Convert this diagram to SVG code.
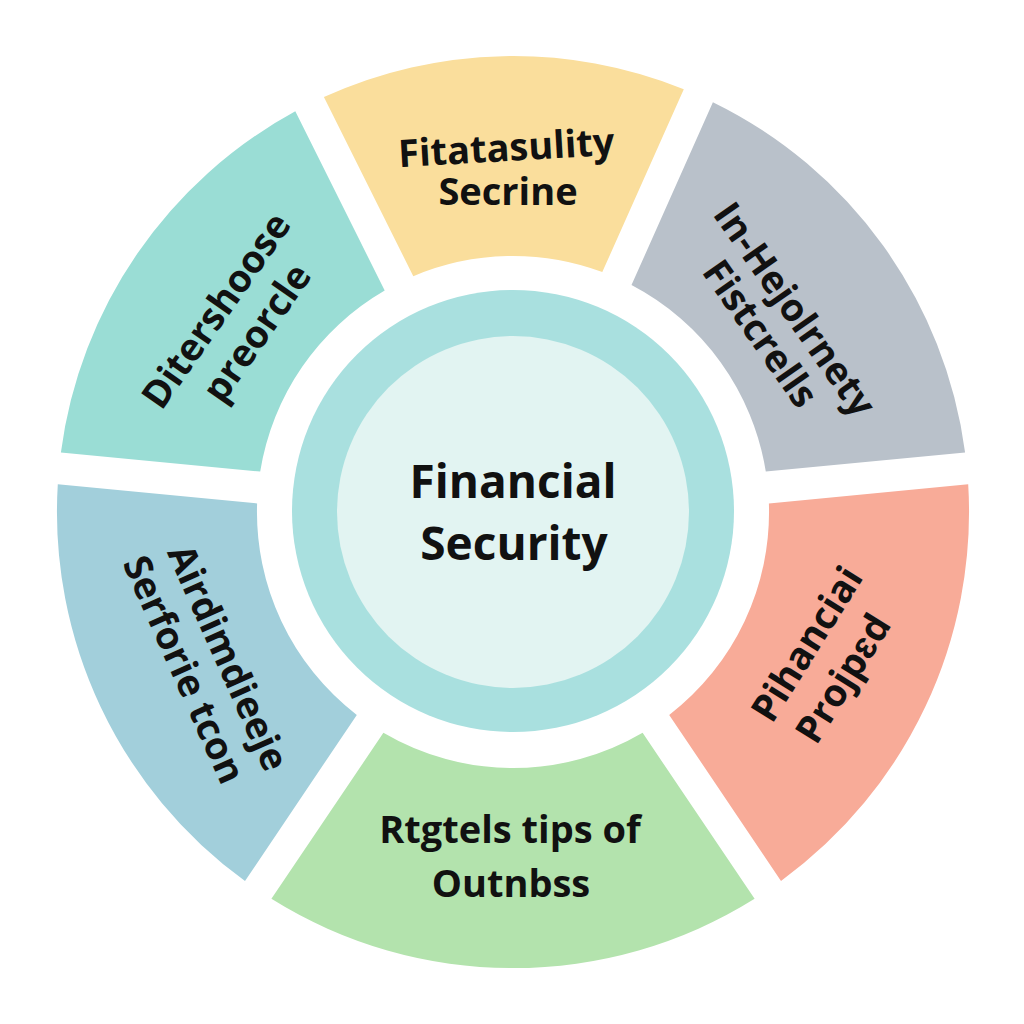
<svg xmlns="http://www.w3.org/2000/svg" width="1024" height="1024" viewBox="0 0 1024 1024">
  <style>
    .lbl { font-family: "Open Sans", "Liberation Sans", sans-serif; font-weight: 700; font-size: 38px; fill: #111111; text-anchor: middle; }
    .ctr { font-family: "Open Sans", "Liberation Sans", sans-serif; font-weight: 700; font-size: 46px; fill: #111111; text-anchor: middle; }
  </style>
  <rect x="0" y="0" width="1024" height="1024" fill="#ffffff"/>
  <g id="connectors"></g>

  <g id="seg-top">
    <path d="M323.9,97.1 A456,456 0 0 1 683.8,89.2 L602.3,272.1 A256,256 0 0 0 413.3,276.2 Z" fill="#FADE9C"/>
    <text class="lbl" transform="translate(507,161) rotate(-3.3)">Fitatasulity</text>
    <text class="lbl" x="508" y="205">Secrine</text>
  </g>

  <g id="seg-top-right">
    <path d="M712.9,102.2 A456,456 0 0 1 965.1,452.5 L765.8,471.6 A256,256 0 0 0 631.5,285.1 Z" fill="#B9C1CA"/>
    <g transform="translate(784,317) rotate(55)">
      <text class="lbl" x="0" y="0">In-Hejolrnety</text>
      <text class="lbl" x="0" y="42">Fistcrells</text>
    </g>
  </g>

  <g id="seg-bottom-right">
    <path d="M968.2,484.3 A456,456 0 0 1 781.0,880.9 L669.2,714.9 A256,256 0 0 0 768.9,503.4 Z" fill="#F8AB98"/>
    <g transform="translate(818,651) rotate(-58)">
      <text class="lbl" x="0" y="0">Pihanciai</text>
      <text class="lbl" x="-10" y="49">Projpɛd</text>
    </g>
  </g>

  <g id="seg-bottom">
    <path d="M754.6,898.8 A456,456 0 0 1 271.4,898.8 L383.4,732.8 A256,256 0 0 0 642.6,732.8 Z" fill="#B3E3AD"/>
    <text class="lbl" x="510" y="843">Rtgtels tips of</text>
    <text class="lbl" x="511" y="897">Outnbss</text>
  </g>

  <g id="seg-bottom-left">
    <path d="M245.0,881.0 A456,456 0 0 1 57.8,484.3 L257.1,503.4 A256,256 0 0 0 356.8,714.9 Z" fill="#A2CFDB"/>
    <g transform="translate(216,663) rotate(66)">
      <text class="lbl" x="0" y="0">Airdimdieeje</text>
      <text class="lbl" x="-7" y="45">Serforie tcon</text>
    </g>
  </g>

  <g id="seg-top-left">
    <path d="M60.9,452.4 A456,456 0 0 1 295.3,111.3 L384.7,290.5 A256,256 0 0 0 260.2,471.6 Z" fill="#9ADDD5"/>
    <g transform="translate(227,318) rotate(-55)">
      <text class="lbl" x="0" y="0">Ditershoose</text>
      <text class="lbl" x="5" y="46">preorcle</text>
    </g>
  </g>

  <g id="center">
    <circle cx="513" cy="511" r="221" fill="#A9E0DF"/>
    <circle cx="513" cy="512" r="176" fill="#E2F4F2"/>
    <text class="ctr" x="513" y="498">Financial</text>
    <text class="ctr" x="514" y="560">Security</text>
  </g>
</svg>
